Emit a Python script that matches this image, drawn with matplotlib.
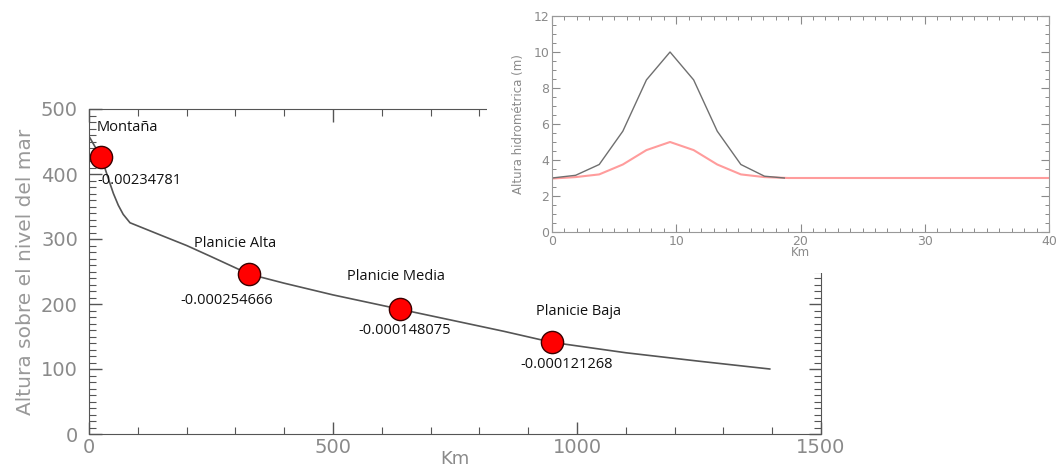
import numpy as np
import matplotlib.pyplot as plt
from matplotlib.patches import Rectangle
from matplotlib.ticker import MultipleLocator

# main profile: distance (km) vs elevation (m)
perfil_km = [0, 10, 20, 30, 40, 50, 60, 70, 84, 150, 200, 250, 328, 400, 500,
             637, 750, 850, 949, 1100, 1250, 1395]
perfil_alt = [458, 445, 432, 415, 392, 370, 352, 338, 325, 305, 290, 273, 246,
              232, 214, 192, 174, 158, 141, 125, 112, 100]

# reference points with their slopes
zonas = ['Montaña', 'Planicie Alta', 'Planicie Media', 'Planicie Baja']
zonas_km = [25, 328, 637, 949]
zonas_alt = [426, 246, 192, 141]
pendientes = ['-0.00234781', '-0.000254666', '-0.000148075', '-0.000121268']

# inset: hydrometric height (m) along 40 km
ins_km = [0, 1.9, 3.8, 5.7, 7.6, 9.5, 11.4, 13.3, 15.2, 17.1, 18.7]
ins_negro = [3.0, 3.15, 3.75, 5.6, 8.45, 10.0, 8.45, 5.6, 3.75, 3.1, 3.0]
ins_km_rojo = [0, 1.9, 3.8, 5.7, 7.6, 9.5, 11.4, 13.3, 15.2, 17.1, 19.0, 40]
ins_rojo = [2.97, 3.05, 3.2, 3.75, 4.55, 5.0, 4.55, 3.75, 3.2, 3.05, 3.0, 3.0]

gris = '#8a8a8a'
fig = plt.figure(figsize=(10.59, 4.70), dpi=100)

# ---- main chart ----
ax = fig.add_axes([89/1059, 1-434/470, (821-89)/1059, (434-109)/470])
ax.set_zorder(0)
ax.plot(perfil_km, perfil_alt, color='#555555', lw=1.2)
ax.plot(zonas_km, zonas_alt, 'o', ms=16, mfc='#ff0000', mec='#3a0000', mew=1.0)

# label offsets in pixels (name above, slope below)
off_nombre = [(-5, 30), (-14, 31), (-4, 33), (26, 31)]
off_pend = [(-4, -23), (-22, -26), (5, -21), (15, -22)]
for i in range(len(zonas)):
    ha = 'left' if i == 0 else 'center'
    ax.annotate(zonas[i], (zonas_km[i], zonas_alt[i]), xytext=off_nombre[i],
                textcoords='offset pixels', ha=ha, va='center',
                fontsize=10.5, family='Open Sans', color='#111111')
    ax.annotate(pendientes[i], (zonas_km[i], zonas_alt[i]), xytext=off_pend[i],
                textcoords='offset pixels', ha=ha, va='center',
                fontsize=10.5, family='Open Sans', color='#111111')

ax.set_xlim(0, 1500)
ax.set_ylim(0, 500)
ax.xaxis.set_major_locator(MultipleLocator(500))
ax.xaxis.set_minor_locator(MultipleLocator(100))
ax.yaxis.set_major_locator(MultipleLocator(100))
ax.yaxis.set_minor_locator(MultipleLocator(10))
ax.tick_params(which='both', direction='in', top=True, right=True,
               color='#555555', labelcolor=gris, labelsize=14)
ax.tick_params(which='major', length=9, width=1)
ax.tick_params(which='minor', length=5, width=0.8)
ax.tick_params(axis='x', pad=3)
ax.tick_params(axis='y', pad=8)
for s in ax.spines.values():
    s.set_color('#555555')
ax.set_xlabel('Km', fontsize=13, color=gris, labelpad=-5)
ax.set_ylabel('Altura sobre el nivel del mar', fontsize=14.5, color='#999999', labelpad=4)

# white block behind the inset hides the main frame there
fig.add_artist(Rectangle((487/1059, 1-273/470), 1, 1, transform=fig.transFigure,
                         facecolor='white', edgecolor='none', zorder=1))

# ---- inset chart ----
axi = fig.add_axes([552/1059, 1-232/470, (1049-552)/1059, (232-16)/470])
axi.set_zorder(2)
axi.plot(ins_km_rojo, ins_rojo, color='#ff9c9c', lw=1.5)
axi.plot(ins_km, ins_negro, color='#6f6f6f', lw=1.0)
axi.set_xlim(0, 40)
axi.set_ylim(0, 12)
axi.xaxis.set_major_locator(MultipleLocator(10))
axi.xaxis.set_minor_locator(MultipleLocator(1))
axi.yaxis.set_major_locator(MultipleLocator(2))
axi.yaxis.set_minor_locator(MultipleLocator(0.5))
axi.tick_params(which='both', direction='in', top=True, right=True,
                color='#8a8a8a', labelcolor=gris, labelsize=9, pad=2)
axi.tick_params(which='major', length=6, width=0.8)
axi.tick_params(which='minor', length=3, width=0.7)
for s in axi.spines.values():
    s.set_color('#999999')
axi.set_xlabel('Km', fontsize=8.5, color=gris, labelpad=-1)
axi.set_ylabel('Altura hidrométrica (m)', fontsize=8.5, color=gris, labelpad=6)

plt.savefig('out.png', dpi=100)
